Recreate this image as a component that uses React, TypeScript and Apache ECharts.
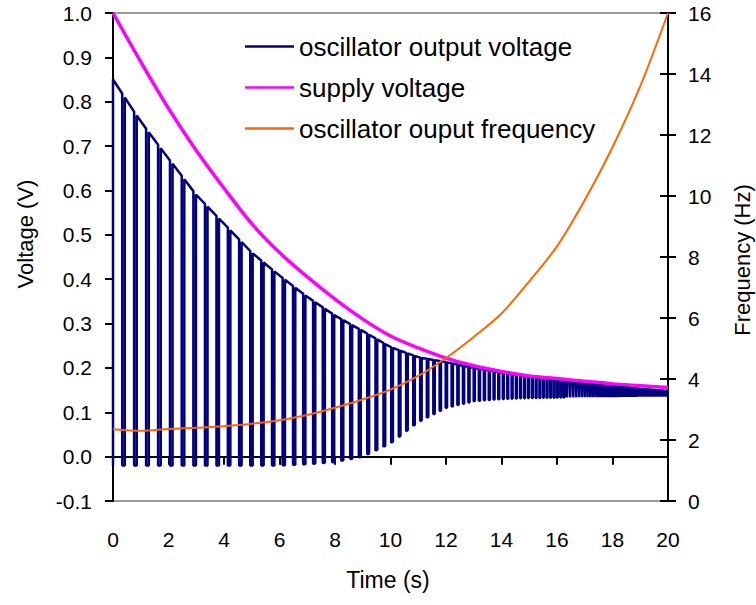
import React, { useEffect, useRef } from "react";
import * as echarts from "echarts";

// At whole seconds 0..20
const timeKnots = [0, 1, 2, 3, 4, 5, 6, 7, 8, 9, 10, 11, 12, 13, 14, 15, 16, 17, 18, 19, 20];
const supplyVoltage = [1.0, 0.89, 0.785, 0.69, 0.605, 0.525, 0.46, 0.405, 0.355, 0.31, 0.272, 0.245, 0.222, 0.205, 0.192, 0.182, 0.176, 0.17, 0.164, 0.16, 0.156];
const frequencyHz = [2.35, 2.3, 2.36, 2.4, 2.45, 2.53, 2.65, 2.82, 3.06, 3.33, 3.65, 4.1, 4.69, 5.38, 6.15, 7.2, 8.35, 9.87, 11.6, 13.6, 16.0];
// envelope of the oscillator output (top of pulses / bottom of pulses)
const pulseHigh = [0.85, 0.755, 0.672, 0.59, 0.525, 0.46, 0.408, 0.36, 0.318, 0.283, 0.247, 0.224, 0.213, 0.2, 0.19, 0.181, 0.173, 0.166, 0.16, 0.153, 0.148];
const pulseLow = [-0.02, -0.02, -0.02, -0.02, -0.02, -0.02, -0.02, -0.017, -0.012, 0.0, 0.03, 0.078, 0.11, 0.125, 0.13, 0.132, 0.133, 0.134, 0.134, 0.135, 0.135];
const dutyHigh = 0.78;

const xTicks = { min: 0, max: 20, interval: 2 };
const leftTicks = { min: -0.1, max: 1.0, interval: 0.1 };
const rightTicks = { min: 0, max: 16, interval: 2 };

const seriesNames = ["oscillator output voltage", "supply voltage", "oscillator ouput frequency"];
const seriesColors = ["#000080", "#ff00ff", "#ff6600"];

function at(arr: number[], t: number): number {
  const i = Math.max(0, Math.min(Math.floor(t), timeKnots.length - 2));
  const f = t - timeKnots[i];
  return arr[i] * (1 - f) + arr[i + 1] * f;
}

function buildWave(): [number, number][] {
  const pts: [number, number][] = [[0, pulseLow[0]]];
  let t = 0;
  while (t < 20) {
    const p = 1 / at(frequencyHz, t);
    const tf = Math.min(t + dutyHigh * p, 20);
    pts.push([t, at(pulseHigh, t)]);
    pts.push([tf, at(pulseHigh, tf)]);
    if (tf >= 20) break;
    pts.push([tf, at(pulseLow, tf)]);
    const tn = Math.min(t + p, 20);
    pts.push([tn, at(pulseLow, tn)]);
    t = tn;
  }
  return pts;
}

const FONT = '"Liberation Sans", Arial, Helvetica, sans-serif';

export default function App() {
  const ref = useRef<HTMLDivElement>(null);
  useEffect(() => {
    if (!ref.current) return;
    const chart = echarts.init(ref.current, undefined, { renderer: "svg" });
    const wave = buildWave();
    const supply = timeKnots.map((t, i) => [t, supplyVoltage[i]]);
    const freq = timeKnots.map((t, i) => [t, frequencyHz[i]]);
    chart.setOption({
      animation: false,
      backgroundColor: "#ffffff",
      textStyle: { fontFamily: FONT },
      grid: {
        left: 113,
        right: 88,
        top: 13,
        bottom: 104,
        show: true,
        borderColor: "#9a9a9a",
        borderWidth: 2,
        backgroundColor: "transparent",
      },
      legend: {
        orient: "vertical",
        left: 245,
        top: 33.5,
        padding: 0,
        icon: "rect",
        itemWidth: 49,
        itemHeight: 2.5,
        itemGap: 15,
        textStyle: { fontSize: 26, color: "#000", fontFamily: FONT },
        data: seriesNames,
      },
      xAxis: [
        {
          type: "value",
          ...xTicks,
          axisLine: { show: true, onZero: true, onZeroAxisIndex: 0, lineStyle: { color: "#000", width: 2 } },
          axisTick: { show: true, inside: false, length: 8, lineStyle: { color: "#000", width: 2 } },
          axisLabel: { show: false },
          splitLine: { show: false },
        },
        {
          type: "value",
          ...xTicks,
          position: "bottom",
          axisLine: { show: false, onZero: false },
          axisTick: { show: false },
          axisLabel: { show: true, margin: 28, fontSize: 21, color: "#000", fontFamily: FONT },
          splitLine: { show: false },
        },
      ],
      yAxis: [
        {
          type: "value",
          position: "left",
          ...leftTicks,
          axisLine: { show: true, onZero: false, lineStyle: { color: "#000", width: 2 } },
          axisTick: { show: true, inside: false, length: 8, lineStyle: { color: "#000", width: 2 } },
          axisLabel: {
            margin: 21,
            fontSize: 21,
            color: "#000",
            fontFamily: FONT,
            formatter: (v: number) => (Math.abs(v) < 1e-9 ? "0.0" : v.toFixed(1)),
          },
          splitLine: { show: false },
        },
        {
          type: "value",
          position: "right",
          ...rightTicks,
          axisLine: { show: true, onZero: false, lineStyle: { color: "#000", width: 2 } },
          axisTick: { show: true, inside: false, length: 8, lineStyle: { color: "#000", width: 2 } },
          axisLabel: { margin: 20, fontSize: 21, color: "#000", fontFamily: FONT },
          splitLine: { show: false },
        },
        {
          type: "value",
          position: "right",
          ...rightTicks,
          axisLine: { show: false, onZero: false },
          axisTick: { show: true, inside: true, length: 8, lineStyle: { color: "#000", width: 2 } },
          axisLabel: { show: false },
          splitLine: { show: false },
        },
      ],
      series: [
        {
          name: seriesNames[0],
          type: "line",
          xAxisIndex: 0,
          yAxisIndex: 0,
          data: wave,
          symbol: "none",
          color: seriesColors[0],
          lineStyle: { color: seriesColors[0], width: 2.5 },
          z: 3,
        },
        {
          name: seriesNames[1],
          type: "line",
          xAxisIndex: 0,
          yAxisIndex: 0,
          data: supply,
          smooth: 0.3,
          symbol: "none",
          color: seriesColors[1],
          lineStyle: { color: seriesColors[1], width: 3.5 },
          z: 4,
        },
        {
          name: seriesNames[2],
          type: "line",
          xAxisIndex: 0,
          yAxisIndex: 1,
          data: freq,
          smooth: 0.3,
          symbol: "none",
          color: seriesColors[2],
          lineStyle: { color: seriesColors[2], width: 2 },
          z: 5,
        },
      ],
      graphic: [
        {
          type: "text",
          x: 388,
          y: 580,
          style: { text: "Time (s)", fontSize: 23, fill: "#000", font: `23px ${FONT}`, textAlign: "center", textVerticalAlign: "middle" },
        },
        {
          type: "text",
          x: 25,
          y: 234,
          rotation: Math.PI / 2,
          style: { text: "Voltage (V)", fontSize: 22, fill: "#000", font: `22px ${FONT}`, textAlign: "center", textVerticalAlign: "middle" },
        },
        {
          type: "text",
          x: 742,
          y: 260,
          rotation: Math.PI / 2,
          style: { text: "Frequency (Hz)", fontSize: 22, fill: "#000", font: `22px ${FONT}`, textAlign: "center", textVerticalAlign: "middle" },
        },
      ],
    });
    return () => chart.dispose();
  }, []);
  return (
    <div
      ref={ref}
      style={{ position: "absolute", left: 0, top: 0, width: 756, height: 605, background: "#fff" }}
    />
  );
}
